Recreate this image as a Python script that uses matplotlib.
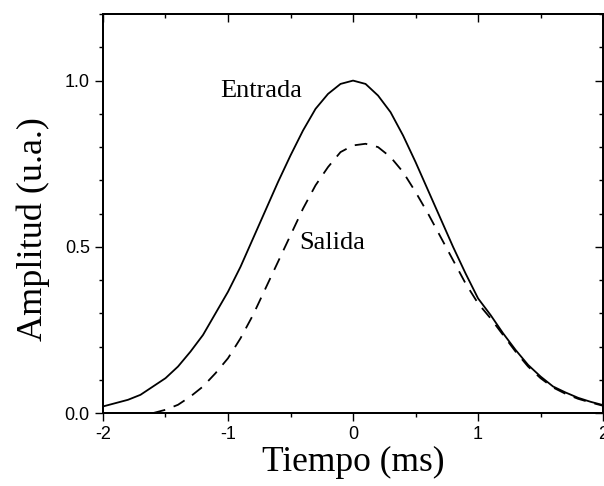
import numpy as np
import matplotlib.pyplot as plt
from matplotlib.ticker import MultipleLocator

# time axis (ms) and amplitudes
t_in = [-2.0, -1.9, -1.8, -1.7, -1.6, -1.5, -1.4, -1.3, -1.2, -1.1, -1.0,
        -0.9, -0.8, -0.7, -0.6, -0.5, -0.4, -0.3, -0.2, -0.1, 0.0,
        0.1, 0.2, 0.3, 0.4, 0.5, 0.6, 0.7, 0.8, 0.9, 1.0,
        1.1, 1.2, 1.3, 1.4, 1.5, 1.6, 1.7, 1.8, 1.9, 2.0]
entrada = [0.02, 0.03, 0.04, 0.055, 0.08, 0.105, 0.14, 0.185, 0.235, 0.30, 0.365,
           0.44, 0.525, 0.61, 0.695, 0.775, 0.85, 0.915, 0.96, 0.99, 1.0,
           0.99, 0.955, 0.905, 0.835, 0.755, 0.67, 0.585, 0.50, 0.42, 0.345,
           0.295, 0.24, 0.19, 0.145, 0.11, 0.08, 0.062, 0.046, 0.034, 0.024]

t_out = [-1.6, -1.5, -1.4, -1.3, -1.2, -1.1, -1.0,
         -0.9, -0.8, -0.7, -0.6, -0.5, -0.4, -0.3, -0.2, -0.1, 0.0,
         0.1, 0.2, 0.3, 0.4, 0.5, 0.6, 0.7, 0.8, 0.9, 1.0,
         1.1, 1.2, 1.3, 1.4, 1.5, 1.6, 1.7, 1.8, 1.9, 2.0]
salida = [0.0, 0.01, 0.025, 0.05, 0.08, 0.12, 0.165,
          0.225, 0.295, 0.375, 0.455, 0.535, 0.615, 0.685, 0.74, 0.785, 0.805,
          0.81, 0.80, 0.77, 0.725, 0.665, 0.60, 0.53, 0.46, 0.39, 0.33,
          0.285, 0.235, 0.185, 0.14, 0.105, 0.077, 0.058, 0.043, 0.032, 0.022]

xticks = [-2, -1, 0, 1, 2]
xticklabels = ['-2', '-1', '0', '1', '2']
yticks = [0.0, 0.5, 1.0]
yticklabels = ['0.0', '0.5', '1.0']

fig = plt.figure(figsize=(6.04, 4.86), dpi=100, facecolor='w')
ax = fig.add_axes([0.1705, 0.150, 0.828, 0.821])

ax.plot(t_in, entrada, color='black', lw=1.3)
ax.plot(t_out, salida, color='black', lw=1.3, dashes=(7, 5))

ax.set_xlim(-2, 2)
ax.set_ylim(0, 1.2)
ax.set_xticks(xticks)
ax.set_xticklabels(xticklabels, family='Liberation Sans', fontsize=13)
ax.set_yticks(yticks)
ax.set_yticklabels(yticklabels, family='Liberation Sans', fontsize=13)
ax.xaxis.set_minor_locator(MultipleLocator(0.5))
ax.yaxis.set_minor_locator(MultipleLocator(0.1))
ax.tick_params(which='both', direction='out', top=False, right=False, width=1.0)
ax.tick_params(which='major', length=6)
ax.tick_params(which='minor', length=3)

# top and right: ticks pointing in, no labels
axt = ax.twiny()
axt.set_xlim(ax.get_xlim())
axt.set_xticks(xticks)
axt.xaxis.set_minor_locator(MultipleLocator(0.5))
axt.tick_params(which='both', direction='in', labeltop=False, width=1.0)
axt.tick_params(which='major', length=6)
axt.tick_params(which='minor', length=3)

axr = ax.twinx()
axr.set_ylim(ax.get_ylim())
axr.set_yticks(yticks)
axr.yaxis.set_minor_locator(MultipleLocator(0.1))
axr.tick_params(which='both', direction='in', labelright=False, width=1.0)
axr.tick_params(which='major', length=6)
axr.tick_params(which='minor', length=3)

for a in (ax, axt, axr):
    for sp in a.spines.values():
        sp.set_linewidth(1.2)

serif = 'Liberation Serif'
ax.set_xlabel('Tiempo (ms)', family=serif, fontsize=25.5, labelpad=2)
ax.set_ylabel('Amplitud (u.a.)', family=serif, fontsize=26)
ax.yaxis.set_label_coords(-0.106, 0.46)

ax.text(-1.06, 0.97, 'Entrada', family=serif, fontsize=19, va='center', ha='left')
ax.text(-0.43, 0.513, 'Salida', family=serif, fontsize=19, va='center', ha='left')

plt.savefig('out.png', dpi=100)
